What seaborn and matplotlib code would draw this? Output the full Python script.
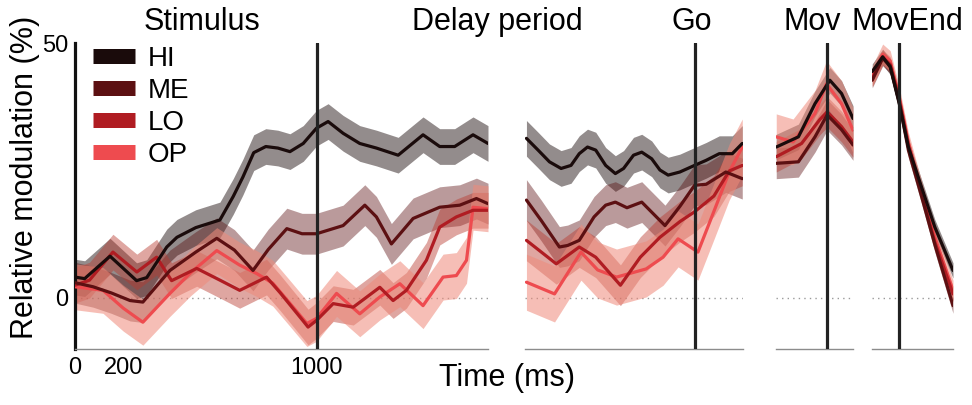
import matplotlib
matplotlib.use("Agg")
import matplotlib.pyplot as plt
from matplotlib.lines import Line2D
import seaborn as sns
import numpy as np

sns.set_style("white")
plt.rcParams['font.family'] = ['Liberation Sans', 'DejaVu Sans']
plt.rcParams['text.color'] = 'black'
plt.rcParams['xtick.labelcolor'] = 'black'
plt.rcParams['ytick.labelcolor'] = 'black'

# ---------------- data ----------------
conditions = ["HI", "ME", "LO", "OP"]
line_colors = {"HI": "#1a0b0b", "ME": "#5c1012", "LO": "#b01c22", "OP": "#ee4b4f"}
band_colors = {"HI": "#1a0b0b", "ME": "#5c1012", "LO": "#b83a30", "OP": "#ef8a7a"}
band_alpha = {"HI": 0.47, "ME": 0.42, "LO": 0.45, "OP": 0.55}

event_names = ["Stimulus", "Go", "Mov", "MovEnd"]
event_times = [1000, 0, 0, 0]

# Panel 1: aligned to stimulus onset (ms)
HI_t1 = [0, 40, 145, 255, 297, 380, 422, 500, 600, 655, 695, 740, 790, 840, 890, 945, 1000, 1048, 1110, 1179, 1248, 1338, 1441, 1510, 1572, 1648, 1710]
HI_v1 = [4.1, 3.8, 8.2, 3.4, 4.0, 10.0, 11.9, 13.8, 15.3, 19.9, 23.7, 28.5, 29.7, 29.4, 28.7, 30.3, 33.3, 34.6, 32.3, 30.3, 29.4, 28.0, 32.0, 29.7, 29.7, 32.0, 30.3]
ME_t1 = [0, 75, 150, 228, 281, 393, 500, 587, 660, 737, 800, 877, 940, 1000, 1110, 1200, 1248, 1310, 1400, 1510, 1593, 1662, 1710]
ME_v1 = [3.0, 2.2, 1.0, -0.5, -0.8, 5.4, 9.0, 11.7, 9.4, 5.4, 9.5, 13.6, 12.6, 12.6, 14.2, 18.2, 15.9, 10.6, 15.6, 17.8, 18.2, 19.5, 18.5]
LO_t1 = [0, 60, 157, 256, 338, 400, 504, 600, 682, 793, 850, 943, 965, 1000, 1069, 1152, 1262, 1317, 1372, 1455, 1510, 1579, 1648, 1710]
LO_v1 = [2.5, 3.5, 9.0, 5.1, 8.0, 3.4, 5.8, 3.5, 1.5, 4.1, 1.0, -4.4, -5.7, -4.4, -1.1, -1.8, 2.1, -0.5, 1.5, 7.4, 13.9, 15.9, 17.2, 17.2]
OP_t1 = [0, 116, 200, 281, 393, 480, 587, 680, 752, 819, 880, 960, 1000, 1083, 1179, 1262, 1345, 1441, 1524, 1579, 1621, 1648, 1710]
OP_v1 = [2.2, 1.5, -2.0, -4.75, 0.9, 5.0, 9.3, 6.5, 4.8, 2.9, -0.5, -5.0, -4.0, 0.9, -3.1, 0.2, 2.8, -1.5, 4.1, 4.4, 7.4, 17.8, 17.5]
sem1 = {"HI": 3.5, "ME": 4.0, "LO": 3.5, "OP": 4.5}

# Panel 2: aligned to Go cue (ms)
HI_t2 = [-694, -646, -599, -551, -510, -476, -442, -408, -367, -327, -293, -252, -218, -177, -143, -109, -61, 0, 48, 102, 156, 197]
HI_v2 = [31.3, 29.0, 26.7, 25.4, 26.0, 28.3, 29.6, 29.0, 26.0, 24.4, 25.4, 28.0, 28.6, 27.3, 25.1, 24.1, 24.7, 26.0, 27.0, 28.3, 28.3, 30.3]
ME_t2 = [-694, -633, -558, -524, -476, -415, -367, -327, -279, -218, -170, -122, -60, 0, 48, 129, 197]
ME_v2 = [19.2, 15.2, 10.0, 10.3, 11.3, 15.9, 18.2, 18.8, 17.7, 18.8, 16.5, 14.2, 18.0, 22.1, 22.3, 24.7, 23.4]
LO_t2 = [-694, -571, -476, -408, -306, -224, -143, -60, 0, 80, 143, 197]
LO_v2 = [11.3, 6.7, 10.0, 8.0, 2.5, 8.0, 11.9, 15.0, 16.9, 20.0, 24.9, 26.0]
OP_t2 = [-694, -578, -469, -400, -322, -200, -130, -68, 14, 80, 143, 197]
OP_v2 = [3.1, 0.8, 9.0, 5.5, 4.1, 5.7, 8.0, 11.6, 9.0, 17.0, 24.7, 29.6]
sem2 = {"HI": 3.5, "ME": 4.0, "LO": 4.0, "OP": 5.5}

# Panel 3: aligned to movement onset (ms)
HI_t3 = [-209, -118, -50, 11, 59, 106]
HI_v3 = [29.6, 31.6, 38.1, 42.7, 40.1, 35.2]
ME_t3 = [-209, -118, -50, 0, 59, 106]
ME_v3 = [26.4, 26.7, 31.6, 35.9, 33.0, 30.0]
LO_t3 = [-209, -105, -30, 0, 59, 106]
LO_v3 = [27.7, 30.3, 35.0, 36.5, 33.6, 30.6]
OP_t3 = [-209, -140, -50, -3, 59, 106]
OP_v3 = [31.6, 30.6, 36.2, 42.0, 38.1, 32.9]
sem3 = {"HI": 2.5, "ME": 3.0, "LO": 3.0, "OP": 4.5}

# Panel 4: aligned to movement end (ms)
HI_t4 = [-111, -68, -37, 0, 38, 92, 147, 222]
HI_v4 = [44.4, 47.3, 45.3, 38.2, 29.6, 21.8, 13.9, 5.4]
ME_t4 = [-111, -68, -37, 0, 38, 92, 147, 222]
ME_v4 = [42.7, 47.0, 45.5, 38.5, 29.0, 20.0, 10.5, -1.5]
LO_t4 = [-111, -68, -37, 0, 38, 92, 147, 222]
LO_v4 = [43.0, 47.2, 45.8, 39.0, 30.0, 20.5, 11.0, 0.8]
OP_t4 = [-111, -68, -37, 0, 38, 92, 147, 222]
OP_v4 = [43.5, 47.8, 46.5, 39.5, 30.5, 21.0, 12.0, 1.5]
sem4 = {"HI": 1.5, "ME": 1.5, "LO": 1.5, "OP": 2.0}

panels = [
    dict(series={"HI": (HI_t1, HI_v1), "ME": (ME_t1, ME_v1), "LO": (LO_t1, LO_v1), "OP": (OP_t1, OP_v1)},
         sem=sem1, xlim=(0, 1710), xticks=list(range(0, 1700, 200)), rect_x=(75, 488)),
    dict(series={"HI": (HI_t2, HI_v2), "ME": (ME_t2, ME_v2), "LO": (LO_t2, LO_v2), "OP": (OP_t2, OP_v2)},
         sem=sem2, xlim=(-700, 200), xticks=[-600, -400, -200, 0], rect_x=(525, 743)),
    dict(series={"HI": (HI_t3, HI_v3), "ME": (ME_t3, ME_v3), "LO": (LO_t3, LO_v3), "OP": (OP_t3, OP_v3)},
         sem=sem3, xlim=(-210, 106), xticks=[-210, 106], rect_x=(776, 853)),
    dict(series={"HI": (HI_t4, HI_v4), "ME": (ME_t4, ME_v4), "LO": (LO_t4, LO_v4), "OP": (OP_t4, OP_v4)},
         sem=sem4, xlim=(-112, 222), xticks=[-112, 222], rect_x=(872, 953)),
]

# ---------------- figure ----------------
W, H = 972, 405
fig = plt.figure(figsize=(W / 100, H / 100), dpi=100)
y_top_px, y_bot_px = 43, 349
grey = "#8c8c8c"

axes = []
for i, p in enumerate(panels):
    x0, x1 = p["rect_x"]
    ax = fig.add_axes([x0 / W, 1 - y_bot_px / H, (x1 - x0) / W, (y_bot_px - y_top_px) / H])
    axes.append(ax)
    ax.set_xlim(*p["xlim"])
    ax.set_ylim(-10, 50)
    ax.axhline(0, color="#9a9a9a", lw=1.0, ls=(0, (1, 3)), zorder=1)
    for c in conditions:
        t, v = p["series"][c]
        t = np.asarray(t, float)
        v = np.asarray(v, float)
        s = p["sem"][c]
        ax.fill_between(t, v - s, v + s, color=band_colors[c], alpha=band_alpha[c], lw=0, zorder=2)
    for c in ["OP", "LO", "ME", "HI"]:
        t, v = p["series"][c]
        sns.lineplot(x=t, y=v, color=line_colors[c], lw=2.3, ax=ax, legend=False, zorder=3,
                     solid_joinstyle="round", solid_capstyle="round")
    ax.axvline(event_times[i], color="#222222", lw=2.3, zorder=4)
    for sp in ["top", "right"]:
        ax.spines[sp].set_visible(False)
    ax.spines["bottom"].set_color(grey)
    ax.spines["bottom"].set_linewidth(1.0)
    ax.set_xticks(p["xticks"])
    ax.tick_params(axis="x", direction="in", length=4, width=1, color=grey, pad=6, labelsize=17)
    ax.set_xlabel("")
    ax.set_ylabel("")
    if i == 0:
        ax.spines["left"].set_color("#111111")
        ax.spines["left"].set_linewidth(2.3)
        ax.set_yticks([0, 50])
        ax.set_yticklabels(["0", "50"])
        ax.tick_params(axis="y", direction="in", length=4, width=1, color=grey, pad=5, labelsize=17)
        ax.set_xticklabels(["0", "200", "", "", "", "1000", "", "", ""])
    else:
        ax.spines["left"].set_visible(False)
        ax.set_yticks([])
        ax.set_xticklabels([""] * len(p["xticks"]))

# event titles
titles = [("Stimulus", 202), ("Delay period", 497), ("Go", 692), ("Mov", 812), ("MovEnd", 907)]
for txt, xc in titles:
    fig.text(xc / W, 1 - 22 / H, txt, ha="center", va="center", fontsize=22)

fig.text(507 / W, 1 - 378 / H, "Time (ms)", ha="center", va="center", fontsize=22)
fig.text(25 / W, 1 - 177 / H, "Relative modulation (%)", ha="center", va="center",
         rotation=90, fontsize=22)

handles = [Line2D([0], [0], color=line_colors[c], lw=10.8, solid_capstyle="butt") for c in conditions]
fig.legend(handles, conditions, loc="upper left", bbox_to_anchor=(93 / W, 1 - 46 / H),
           frameon=False, fontsize=20, handlelength=1.51, handletextpad=0.47,
           labelspacing=0.21, borderpad=0, borderaxespad=0)

fig.savefig("out.png", dpi=100)
